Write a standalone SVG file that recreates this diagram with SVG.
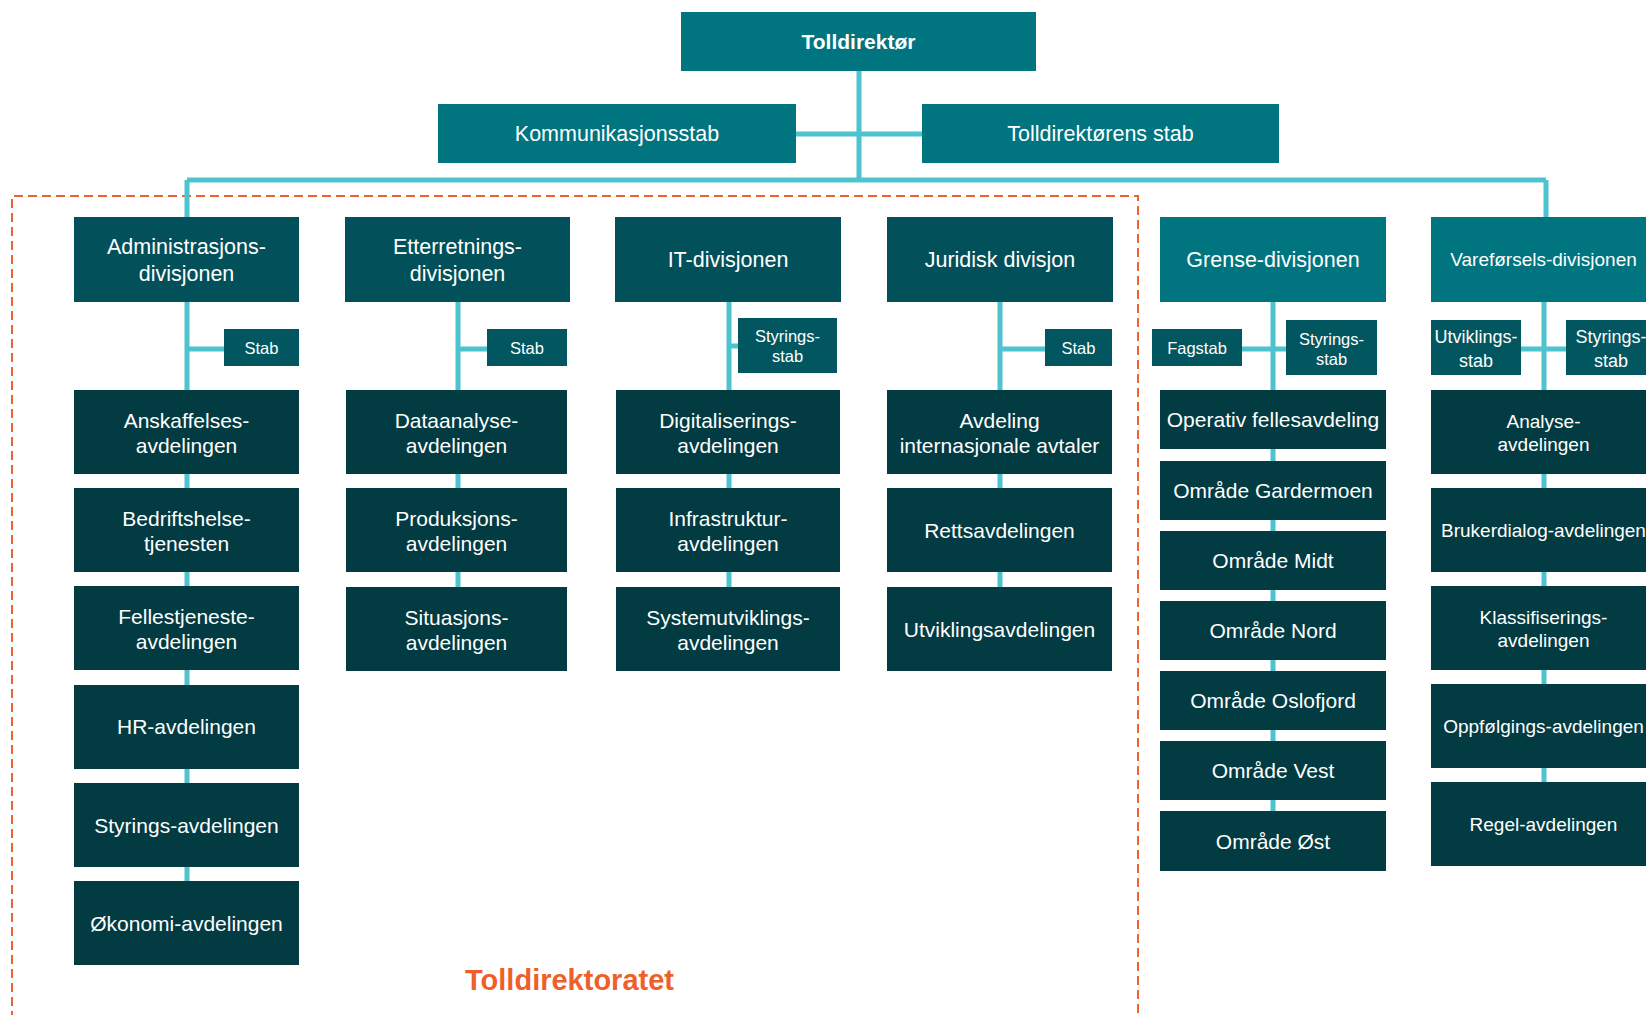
<svg xmlns="http://www.w3.org/2000/svg" width="1646" height="1015" viewBox="0 0 1646 1015">
<style>
rect{shape-rendering:crispEdges}
.top{fill:#00747F}
.div{fill:#02505A}
.stab{fill:#02565F}
.dept{fill:#023B42}
.con{stroke:#4DC3CF;stroke-width:5;fill:none}
text{font-family:"Liberation Sans",Arial,sans-serif;fill:#fff;text-anchor:middle}
.t1{font-size:21.5px}
.tb{font-size:21px;font-weight:bold}
.d{font-size:21px}
.v{font-size:19px}
.s{font-size:16.5px}
.sv{font-size:18px}
.frame{stroke:#EF6130;stroke-width:2;fill:none;stroke-dasharray:9 5}
.title{font-size:29px;font-weight:bold;fill:#EF5F2A}
</style>
<rect width="1646" height="1015" fill="#fff"/>
<path class="frame" d="M12,1020 L12,196 L1138,196 L1138,1020"/>
<g id="connectors">
<path class="con" d="M859,70 V180 M796,134 H922 M187,180 H1546 M187,180 V218 M1546,180 V218"/>
<path class="con" d="M187,300 V884 M187,349 H226"/>
<path class="con" d="M458,300 V590 M458,349 H489"/>
<path class="con" d="M729,300 V590 M729,346 H740"/>
<path class="con" d="M1000,300 V590 M1000,349 H1047"/>
<path class="con" d="M1273,300 V814 M1240,349 H1288"/>
<path class="con" d="M1544,300 V785 M1519,349 H1568"/>
</g>
<g id="n-tolldirektor"><rect class="top" x="681" y="12" width="355" height="59"/><text class="tb" x="858.5" y="49">Tolldirektør</text></g>
<g id="n-kommunikasjonsstab"><rect class="top" x="438" y="104" width="358" height="59"/><text class="t1" x="617" y="141">Kommunikasjonsstab</text></g>
<g id="n-tolldirektorens-stab"><rect class="top" x="922" y="104" width="357" height="59"/><text class="t1" x="1100.5" y="141">Tolldirektørens stab</text></g>

<g id="n-admin"><rect class="div" x="74" y="217" width="225" height="85"/><text class="t1" x="186.5"><tspan x="186.5" y="254">Administrasjons-</tspan><tspan x="186.5" y="281">divisjonen</tspan></text></g>
<g id="n-etter"><rect class="div" x="345" y="217" width="225" height="85"/><text class="t1" x="457.5"><tspan x="457.5" y="254">Etterretnings-</tspan><tspan x="457.5" y="281">divisjonen</tspan></text></g>
<g id="n-it"><rect class="div" x="615" y="217" width="226" height="85"/><text class="t1" x="728" y="267">IT-divisjonen</text></g>
<g id="n-jur"><rect class="div" x="887" y="217" width="226" height="85"/><text class="t1" x="1000" y="267">Juridisk divisjon</text></g>
<g id="n-grense"><rect class="top" x="1160" y="217" width="226" height="85"/><text class="t1" x="1273" y="267">Grense-divisjonen</text></g>
<g id="n-varefor"><rect class="top" x="1431" y="217" width="225" height="85"/><text class="v" x="1543.5" y="266">Vareførsels-divisjonen</text></g>

<g id="n-admin-stab"><rect class="stab" x="224" y="329" width="75" height="37"/><text class="s" x="261.5" y="353.5">Stab</text></g>
<g id="n-etter-stab"><rect class="stab" x="487" y="329" width="80" height="37"/><text class="s" x="527" y="353.5">Stab</text></g>
<g id="n-it-stab"><rect class="stab" x="738" y="318" width="99" height="55"/><text class="s"><tspan x="787.5" y="341.5">Styrings-</tspan><tspan x="787.5" y="361.5">stab</tspan></text></g>
<g id="n-jur-stab"><rect class="stab" x="1045" y="329" width="67" height="37"/><text class="s" x="1078.5" y="353.5">Stab</text></g>
<g id="n-grense-fagstab"><rect class="stab" x="1152" y="329" width="90" height="37"/><text class="s" x="1197" y="353.5">Fagstab</text></g>
<g id="n-grense-styr"><rect class="stab" x="1286" y="320" width="91" height="55"/><text class="s"><tspan x="1331.5" y="344.5">Styrings-</tspan><tspan x="1331.5" y="365">stab</tspan></text></g>
<g id="n-varefor-utv"><rect class="stab" x="1431" y="320" width="90" height="55"/><text class="sv"><tspan x="1476" y="343">Utviklings-</tspan><tspan x="1476" y="366.5">stab</tspan></text></g>
<g id="n-varefor-styr"><rect class="stab" x="1566" y="320" width="90" height="55"/><text class="sv"><tspan x="1611" y="343">Styrings-</tspan><tspan x="1611" y="366.5">stab</tspan></text></g>

<g id="n-anskaffelses"><rect class="dept" x="74" y="390" width="225" height="84"/><text class="d"><tspan x="186.5" y="428">Anskaffelses-</tspan><tspan x="186.5" y="453">avdelingen</tspan></text></g>
<g id="n-bedrifts"><rect class="dept" x="74" y="488" width="225" height="84"/><text class="d"><tspan x="186.5" y="526">Bedriftshelse-</tspan><tspan x="186.5" y="551">tjenesten</tspan></text></g>
<g id="n-felles"><rect class="dept" x="74" y="586" width="225" height="84"/><text class="d"><tspan x="186.5" y="624">Fellestjeneste-</tspan><tspan x="186.5" y="649">avdelingen</tspan></text></g>
<g id="n-hr"><rect class="dept" x="74" y="684.5" width="225" height="84"/><text class="d" x="186.5" y="734">HR-avdelingen</text></g>
<g id="n-styringsavd"><rect class="dept" x="74" y="783" width="225" height="84"/><text class="d" x="186.5" y="832.5">Styrings-avdelingen</text></g>
<g id="n-okonomi"><rect class="dept" x="74" y="881" width="225" height="84"/><text class="d" x="186.5" y="930.5">Økonomi-avdelingen</text></g>

<g id="n-dataanalyse"><rect class="dept" x="346" y="390" width="221" height="84"/><text class="d"><tspan x="456.5" y="428">Dataanalyse-</tspan><tspan x="456.5" y="453">avdelingen</tspan></text></g>
<g id="n-produksjons"><rect class="dept" x="346" y="488" width="221" height="84"/><text class="d"><tspan x="456.5" y="526">Produksjons-</tspan><tspan x="456.5" y="551">avdelingen</tspan></text></g>
<g id="n-situasjons"><rect class="dept" x="346" y="587" width="221" height="84"/><text class="d"><tspan x="456.5" y="625">Situasjons-</tspan><tspan x="456.5" y="650">avdelingen</tspan></text></g>

<g id="n-digitalisering"><rect class="dept" x="616" y="390" width="224" height="84"/><text class="d"><tspan x="728" y="428">Digitaliserings-</tspan><tspan x="728" y="453">avdelingen</tspan></text></g>
<g id="n-infrastruktur"><rect class="dept" x="616" y="488" width="224" height="84"/><text class="d"><tspan x="728" y="526">Infrastruktur-</tspan><tspan x="728" y="551">avdelingen</tspan></text></g>
<g id="n-systemutvikling"><rect class="dept" x="616" y="587" width="224" height="84"/><text class="d"><tspan x="728" y="625">Systemutviklings-</tspan><tspan x="728" y="650">avdelingen</tspan></text></g>

<g id="n-internasjonale"><rect class="dept" x="887" y="390" width="225" height="84"/><text class="d"><tspan x="999.5" y="428">Avdeling</tspan><tspan x="999.5" y="453">internasjonale avtaler</tspan></text></g>
<g id="n-retts"><rect class="dept" x="887" y="488" width="225" height="84"/><text class="d" x="999.5" y="537.5">Rettsavdelingen</text></g>
<g id="n-utviklings"><rect class="dept" x="887" y="587" width="225" height="84"/><text class="d" x="999.5" y="636.5">Utviklingsavdelingen</text></g>

<g id="n-operativ"><rect class="dept" x="1160" y="390" width="226" height="59"/><text class="d" x="1273" y="427">Operativ fellesavdeling</text></g>
<g id="n-gardermoen"><rect class="dept" x="1160" y="461" width="226" height="58.5"/><text class="d" x="1273" y="498">Område Gardermoen</text></g>
<g id="n-midt"><rect class="dept" x="1160" y="531" width="226" height="58.5"/><text class="d" x="1273" y="568">Område Midt</text></g>
<g id="n-nord"><rect class="dept" x="1160" y="601" width="226" height="58.5"/><text class="d" x="1273" y="638">Område Nord</text></g>
<g id="n-oslofjord"><rect class="dept" x="1160" y="670.5" width="226" height="59.5"/><text class="d" x="1273" y="708">Område Oslofjord</text></g>
<g id="n-vest"><rect class="dept" x="1160" y="740.5" width="226" height="59.5"/><text class="d" x="1273" y="778">Område Vest</text></g>
<g id="n-ost"><rect class="dept" x="1160" y="811" width="226" height="60"/><text class="d" x="1273" y="848.5">Område Øst</text></g>

<g id="n-analyse"><rect class="dept" x="1431" y="390" width="225" height="84"/><text class="v"><tspan x="1543.5" y="428">Analyse-</tspan><tspan x="1543.5" y="451">avdelingen</tspan></text></g>
<g id="n-brukerdialog"><rect class="dept" x="1431" y="488" width="225" height="84"/><text class="v" x="1543.5" y="537">Brukerdialog-avdelingen</text></g>
<g id="n-klassifisering"><rect class="dept" x="1431" y="586" width="225" height="83.5"/><text class="v"><tspan x="1543.5" y="624">Klassifiserings-</tspan><tspan x="1543.5" y="647">avdelingen</tspan></text></g>
<g id="n-oppfolging"><rect class="dept" x="1431" y="683.5" width="225" height="84"/><text class="v" x="1543.5" y="733">Oppfølgings-avdelingen</text></g>
<g id="n-regel"><rect class="dept" x="1431" y="782" width="225" height="84"/><text class="v" x="1543.5" y="831">Regel-avdelingen</text></g>

<text class="title" x="569.5" y="990">Tolldirektoratet</text>
</svg>
